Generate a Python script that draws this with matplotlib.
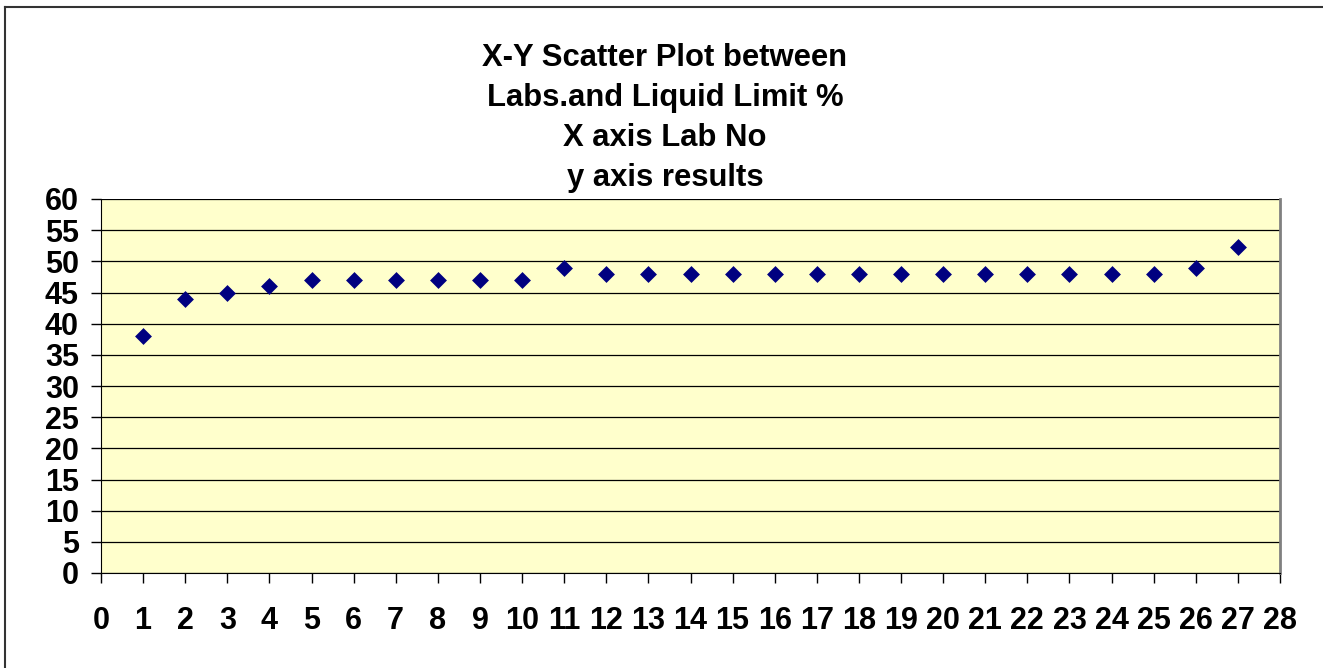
import numpy as np
import matplotlib
matplotlib.use('Agg')
import matplotlib.pyplot as plt
from matplotlib.lines import Line2D

lab_no = np.arange(1, 28)
liquid_limit = [38, 44, 45, 46, 47, 47, 47, 47, 47, 47, 49, 48, 48, 48, 48,
                48, 48, 48, 48, 48, 48, 48, 48, 48, 48, 49, 52.3]
x_ticks = np.arange(0, 29)
y_ticks = np.arange(0, 61, 5)
title = "X-Y Scatter Plot between\nLabs.and Liquid Limit %\nX axis Lab No\ny axis results"

plt.rcParams['font.family'] = ['Liberation Sans', 'DejaVu Sans']

W, H = 1323, 668
fig = plt.figure(figsize=(W / 100, H / 100), dpi=100)
ax = fig.add_axes([101 / W, 1 - 573 / H, (1280 - 101) / W, (573 - 199) / H])
ax.set_facecolor('#FFFFCC')

ax.scatter(lab_no, liquid_limit, marker='D', s=8.6 ** 2, color='#000080',
           zorder=3, linewidths=0)

ax.set_xlim(0, 28)
ax.set_ylim(0, 60)
ax.set_xticks(x_ticks)
ax.set_yticks(y_ticks)
ax.grid(axis='y', color='black', linewidth=0.9)
ax.set_axisbelow(True)

ax.tick_params(axis='x', direction='out', length=7, width=1, pad=17, labelsize=22)
ax.tick_params(axis='y', direction='out', length=7, width=1, pad=9, labelsize=22)
for lbl in ax.get_xticklabels() + ax.get_yticklabels():
    lbl.set_fontweight('bold')

ax.spines['left'].set_color('black')
ax.spines['bottom'].set_color('black')
ax.spines['top'].set_visible(False)
ax.spines['right'].set_color('#808080')
ax.spines['right'].set_linewidth(2)

fig.text(665 / W, 1 - 118 / H, title, ha='center', va='center', multialignment='center',
         fontsize=22.3, fontweight='bold', linespacing=1.43)

# outer chart border (top and left only visible)
fig.add_artist(Line2D([5 / W, 5 / W], [0, 1 - 7 / H], color='#333333', lw=1.5,
                      transform=fig.transFigure))
fig.add_artist(Line2D([5 / W, 1], [1 - 7 / H, 1 - 7 / H], color='#333333', lw=1.5,
                      transform=fig.transFigure))

fig.savefig('out.png', dpi=100)
